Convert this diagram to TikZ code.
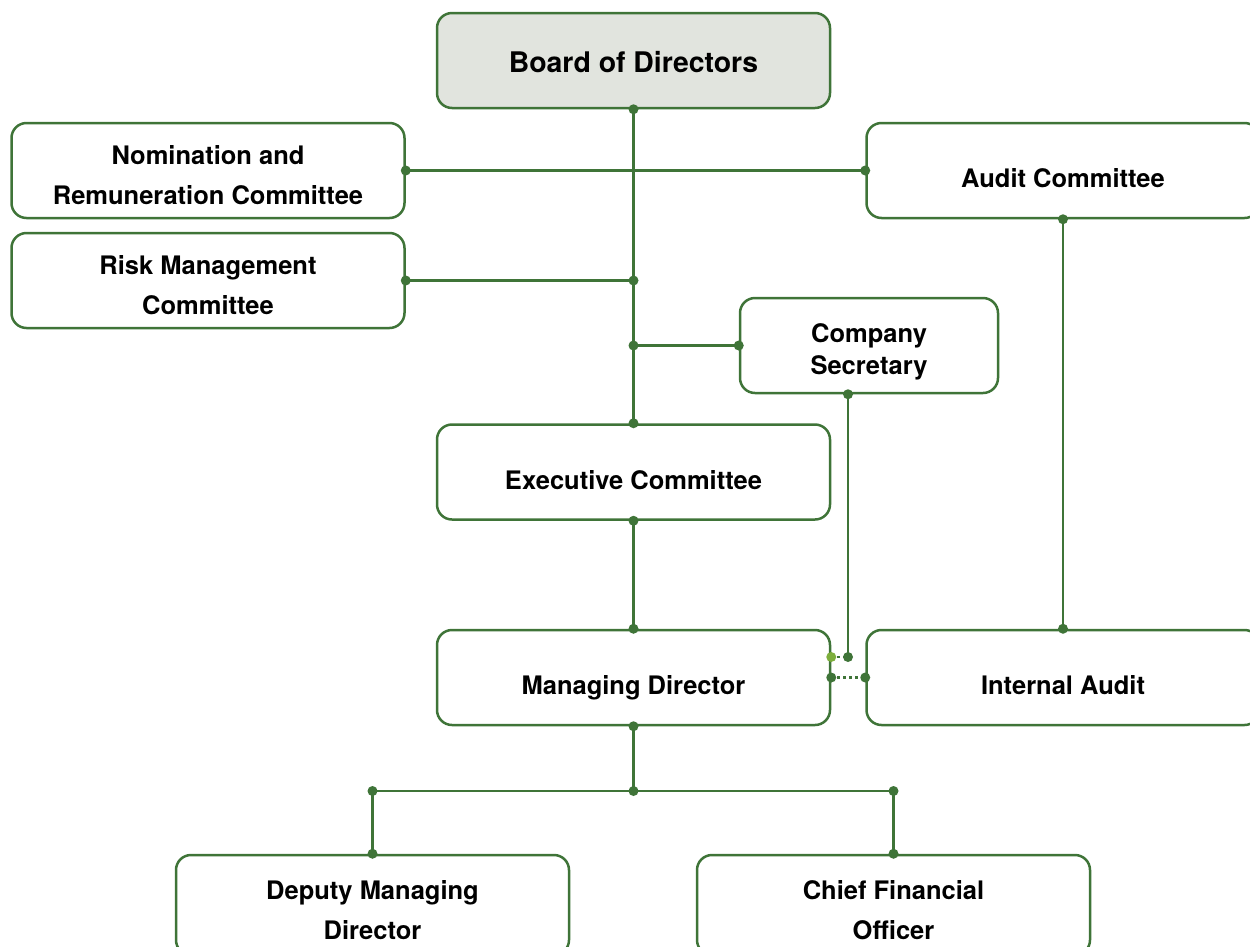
\documentclass[tikz,border=0pt]{standalone}
\usepackage{fontspec}
\setmainfont{TeX Gyre Heros}
\definecolor{linegreen}{HTML}{3F7438}
\definecolor{lightgreen}{HTML}{7DAE3C}
\definecolor{boardfill}{HTML}{E1E4DE}
\tikzset{
  orgbox/.style={draw=linegreen, line width=2.5pt, rounded corners=15pt, fill=white,
    minimum width=393pt, minimum height=95pt, align=center, inner sep=0pt,
    text height=34pt, text depth=0pt,
    font=\fontsize{25.5}{40}\selectfont\bfseries},
  twoline/.style={text height=68pt},
  smallbox/.style={orgbox, minimum width=258pt, text height=57pt,
    font=\fontsize{25.5}{32}\selectfont\bfseries},
  conn/.style={draw=linegreen, line width=2.5pt},
  dotlink/.style={draw=linegreen, line width=2.5pt, dash pattern=on 2.5pt off 3.5pt},
  jdot/.style={circle, fill=linegreen, inner sep=0pt, minimum size=10pt},
  ldot/.style={circle, fill=lightgreen, inner sep=0pt, minimum size=10pt}
}
\begin{document}
\begin{tikzpicture}[x=1pt, y=-1pt]
\useasboundingbox (0,0) rectangle (1250,946);
\clip (0,0) rectangle (1250,946);

% boxes
\node[orgbox, fill=boardfill, text height=23pt, font=\fontsize{28.4}{34}\selectfont\bfseries] (board) at (633.5,60.5) {Board of Directors};
\node[orgbox, twoline] (nom) at (208,170.5) {Nomination and\\Remuneration Committee};
\node[orgbox] (audit) at (1063,170.5) {Audit Committee};
\node[orgbox, twoline] (risk) at (208,280.5) {Risk Management\\Committee};
\node[smallbox] (sec) at (869,345.5) {Company\\Secretary};
\node[orgbox] (exec) at (633.5,472) {Executive Committee};
\node[orgbox] (md) at (633.5,677.5) {Managing Director};
\node[orgbox] (ia) at (1063,677.5) {Internal Audit};
\node[orgbox, twoline, minimum height=100pt] (dep) at (372.5,905) {Deputy Managing\\Director};
\node[orgbox, twoline, minimum height=100pt] (cfo) at (893.5,905) {Chief Financial\\Officer};

% junction points
\coordinate (jrisk) at (board.south |- risk.east);
\coordinate (jsec) at (board.south |- sec.west);
\coordinate (jmd) at (md.south |- 0,791);
\coordinate (jdep) at (dep.north |- jmd);
\coordinate (jcfo) at (cfo.north |- jmd);
\coordinate (secout) at ([xshift=-21pt]sec.south);
\coordinate (secend) at (secout |- 0,657);
\coordinate (mdsec) at (md.east |- secend);
\coordinate (mdia) at (md.east |- ia.west);

% connectors
\draw[conn] (board.south) -- (exec.north);
\draw[conn] (nom.east) -- (audit.west);
\draw[conn] (risk.east) -- (jrisk);
\draw[conn] (jsec) -- (sec.west);
\draw[conn] (audit.south) -- (ia.north);
\draw[conn] (exec.south) -- (md.north);
\draw[conn] (secout) -- (secend);
\draw[dotlink] (mdsec) -- (secend);
\draw[dotlink] (mdia) -- (ia.west);
\draw[conn] (md.south) -- (jmd);
\draw[conn] (jdep) -- (jcfo);
\draw[conn] (jdep) -- (dep.north);
\draw[conn] (jcfo) -- (cfo.north);

% connection dots
\foreach \p in {board.south, nom.east, audit.west, audit.south, risk.east, jrisk, jsec,
  sec.west, secout, secend, exec.north, exec.south, md.north, mdia, ia.west, ia.north,
  md.south, jmd, jdep, jcfo, dep.north, cfo.north}
  \node[jdot] at (\p) {};
\node[ldot] at (mdsec) {};
\end{tikzpicture}
\end{document}
